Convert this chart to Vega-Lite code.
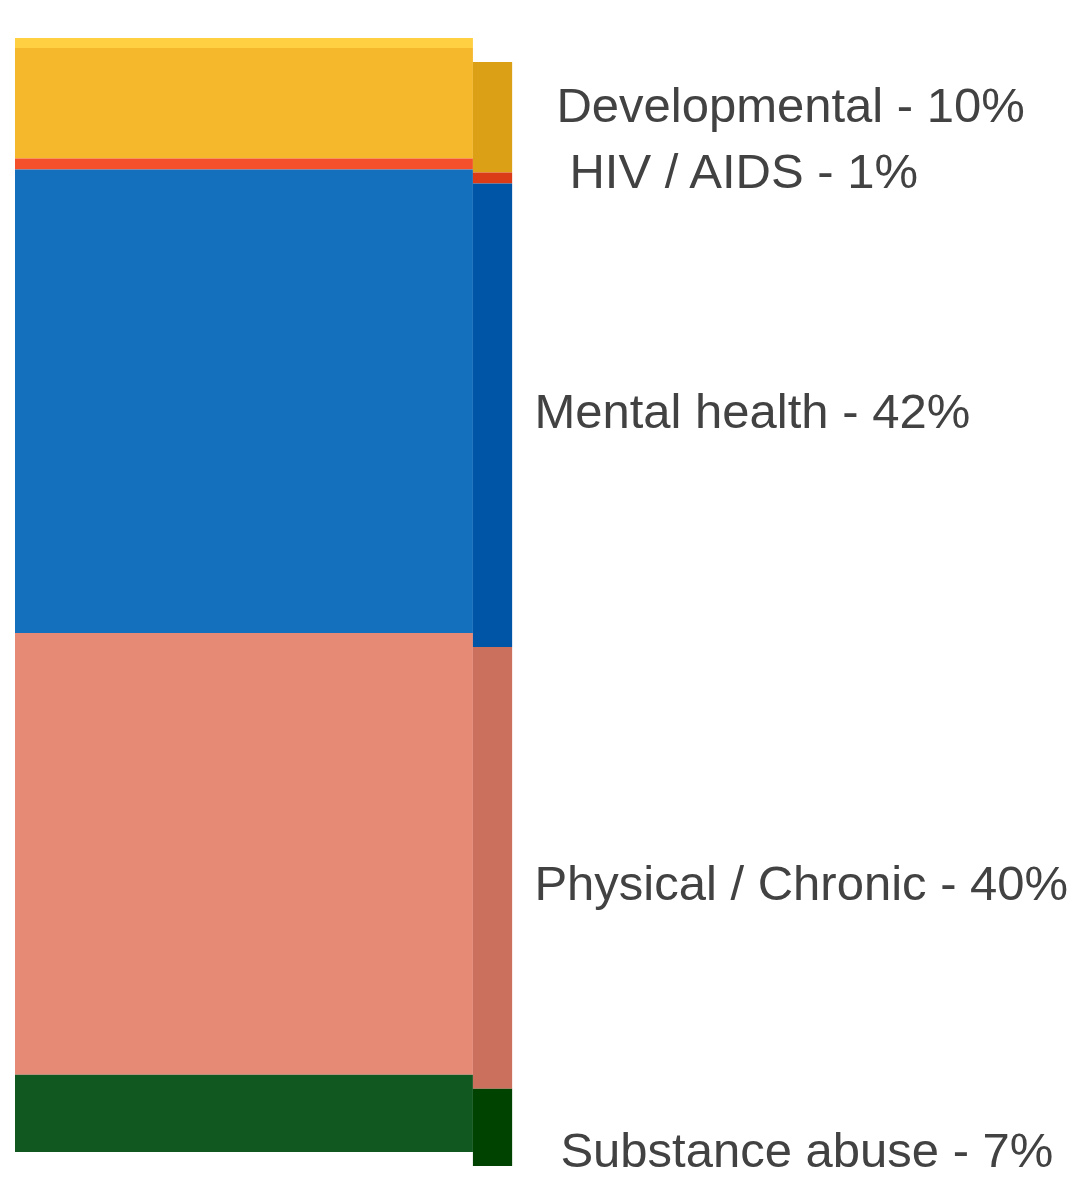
{
  "$schema": "https://vega.github.io/schema/vega-lite/v6.json",
  "autosize": "none",
  "width": 1060,
  "height": 1104,
  "padding": {"left": 15, "right": 0, "top": 48, "bottom": 35},
  "background": "white",
  "config": {"view": {"stroke": null}},
  "data": {
    "values": [
      {"category": "Developmental", "pct": 10, "label": "Developmental - 10%"},
      {"category": "HIV / AIDS", "pct": 1, "label": "HIV / AIDS - 1%"},
      {"category": "Mental health", "pct": 42, "label": "Mental health - 42%"},
      {"category": "Physical / Chronic", "pct": 40, "label": "Physical / Chronic - 40%"},
      {"category": "Substance abuse", "pct": 7, "label": "Substance abuse - 7%"}
    ]
  },
  "transform": [
    {"window": [{"op": "row_number", "as": "rank"}]},
    {"stack": "pct", "groupby": [], "sort": [{"field": "rank", "order": "ascending"}], "as": ["s0", "s1"]}
  ],
  "encoding": {
    "y": {"field": "s0", "type": "quantitative", "axis": null, "scale": {"domain": [0, 100], "reverse": true, "nice": false, "zero": false}}
  },
  "layer": [
    {
      "mark": {"type": "bar"},
      "encoding": {
        "x": {"datum": 0, "type": "quantitative", "axis": null, "scale": {"domain": [0, 100], "nice": false, "zero": false}},
        "x2": {"datum": 43.2},
        "y2": {"field": "s1"},
        "color": {
          "field": "category", "type": "nominal", "legend": null,
          "scale": {
            "domain": ["Developmental", "HIV / AIDS", "Mental health", "Physical / Chronic", "Substance abuse"],
            "range": ["#F5B82D", "#F4502B", "#146FBD", "#E68A76", "#105820"]
          }
        }
      }
    },
    {
      "mark": {"type": "bar", "yOffset": 14, "y2Offset": 14},
      "encoding": {
        "x": {"datum": 43.2, "type": "quantitative"},
        "x2": {"datum": 46.9},
        "y2": {"field": "s1"},
        "fill": {
          "field": "category", "type": "nominal", "legend": null,
          "scale": {
            "domain": ["Developmental", "HIV / AIDS", "Mental health", "Physical / Chronic", "Substance abuse"],
            "range": ["#DCA016", "#DC3B17", "#0055A6", "#CC705E", "#004300"]
          }
        }
      }
    },
    {
      "transform": [{"filter": "datum.category === 'Developmental'"}],
      "mark": {"type": "rule", "color": "#FFD042", "strokeWidth": 10, "yOffset": -5},
      "encoding": {
        "x": {"datum": 0, "type": "quantitative"},
        "x2": {"datum": 43.2}
      }
    },
    {
      "transform": [{"filter": "datum.category === 'Developmental'"}],
      "mark": {"type": "text", "align": "left", "baseline": "alphabetic", "font": "Liberation Sans", "fontSize": 49, "color": "#424242", "dx": 22, "dy": 74},
      "encoding": {"x": {"datum": 49, "type": "quantitative"}, "text": {"field": "label"}}
    },
    {
      "transform": [{"filter": "datum.category === 'HIV / AIDS'"}],
      "mark": {"type": "text", "align": "left", "baseline": "alphabetic", "font": "Liberation Sans", "fontSize": 49, "color": "#424242", "dx": 35, "dy": 30},
      "encoding": {"x": {"datum": 49, "type": "quantitative"}, "text": {"field": "label"}}
    },
    {
      "transform": [{"filter": "datum.category === 'Mental health'"}],
      "mark": {"type": "text", "align": "left", "baseline": "alphabetic", "font": "Liberation Sans", "fontSize": 49, "color": "#424242", "dx": 0, "dy": 259},
      "encoding": {"x": {"datum": 49, "type": "quantitative"}, "text": {"field": "label"}}
    },
    {
      "transform": [{"filter": "datum.category === 'Physical / Chronic'"}],
      "mark": {"type": "text", "align": "left", "baseline": "alphabetic", "font": "Liberation Sans", "fontSize": 49, "color": "#424242", "dx": 0, "dy": 267},
      "encoding": {"x": {"datum": 49, "type": "quantitative"}, "text": {"field": "label"}}
    },
    {
      "transform": [{"filter": "datum.category === 'Substance abuse'"}],
      "mark": {"type": "text", "align": "left", "baseline": "alphabetic", "font": "Liberation Sans", "fontSize": 49, "color": "#424242", "dx": 26, "dy": 92},
      "encoding": {"x": {"datum": 49, "type": "quantitative"}, "text": {"field": "label"}}
    }
  ],
  "resolve": {"scale": {"color": "independent", "fill": "independent"}}
}
